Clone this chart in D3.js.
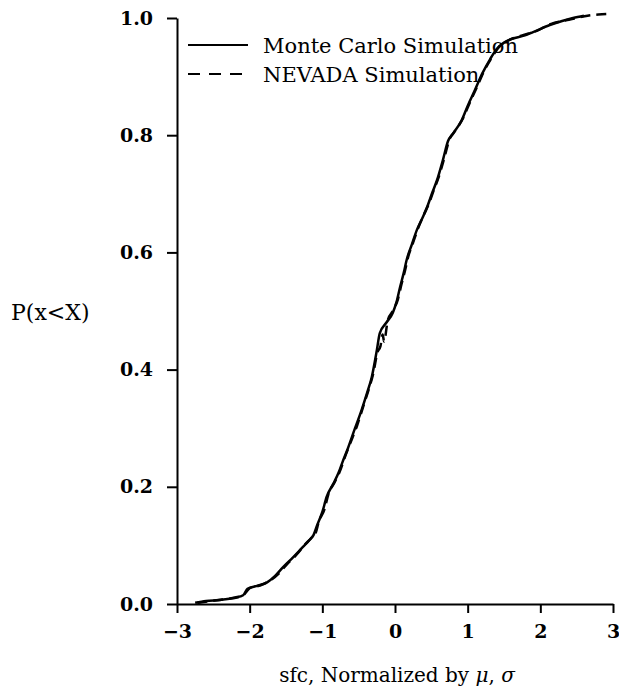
<!DOCTYPE html>
<html>
<head>
<meta charset="utf-8">
<script src="https://cdn.jsdelivr.net/npm/d3@7"></script>
<style>
  body { margin: 0; background: #fff; }
  text { font-family: "DejaVu Serif", "Liberation Serif", serif; fill: #000; }
</style>
</head>
<body>
<div id="chart"></div>
<script>
// Values
var mcX = [-2.75, -2.6, -2.4, -2.2, -2.09, -2.03, -1.9, -1.76, -1.65, -1.54, -1.4, -1.27, -1.17, -1.12, -1.07, -1.0, -0.94, -0.85, -0.78, -0.72, -0.65, -0.55, -0.46, -0.38, -0.32, -0.25, -0.21, -0.12, -0.03, 0.02, 0.07, 0.12, 0.16, 0.23, 0.30, 0.39, 0.45, 0.51, 0.58, 0.66, 0.73, 0.8, 0.92, 1.0, 1.1, 1.2, 1.31, 1.4, 1.5, 1.62, 1.75, 1.9, 2.13, 2.3, 2.45, 2.6];
var mcY = [0.002, 0.005, 0.007, 0.011, 0.015, 0.026, 0.031, 0.037, 0.048, 0.063, 0.08, 0.097, 0.11, 0.118, 0.135, 0.157, 0.183, 0.205, 0.223, 0.243, 0.265, 0.3, 0.331, 0.362, 0.387, 0.433, 0.462, 0.48, 0.497, 0.515, 0.541, 0.565, 0.587, 0.613, 0.638, 0.662, 0.68, 0.701, 0.724, 0.758, 0.79, 0.803, 0.826, 0.85, 0.877, 0.905, 0.93, 0.947, 0.958, 0.965, 0.969, 0.976, 0.988, 0.995, 1.0, 1.004];

var nvX = [-2.72, -2.55, -2.35, -2.15, -2.07, -2.0, -1.85, -1.72, -1.6, -1.5, -1.35, -1.25, -1.15, -1.09, -1.05, -0.97, -0.92, -0.83, -0.76, -0.7, -0.63, -0.52, -0.44, -0.36, -0.3, -0.24, -0.2, -0.17, -0.15, -0.1, -0.02, 0.04, 0.09, 0.14, 0.18, 0.25, 0.32, 0.4, 0.47, 0.53, 0.6, 0.68, 0.75, 0.82, 0.94, 1.02, 1.12, 1.22, 1.33, 1.42, 1.52, 1.64, 1.77, 1.95, 2.15, 2.35, 2.5, 2.65, 2.8, 2.97];
var nvY = [0.002, 0.005, 0.008, 0.012, 0.017, 0.027, 0.032, 0.04, 0.052, 0.066, 0.085, 0.1, 0.113, 0.122, 0.14, 0.162, 0.186, 0.208, 0.226, 0.247, 0.27, 0.305, 0.336, 0.367, 0.393, 0.43, 0.44, 0.46, 0.448, 0.484, 0.502, 0.52, 0.546, 0.57, 0.592, 0.617, 0.642, 0.665, 0.684, 0.705, 0.728, 0.762, 0.793, 0.806, 0.83, 0.853, 0.88, 0.908, 0.932, 0.949, 0.959, 0.966, 0.971, 0.978, 0.99, 0.996, 1.0, 1.004, 1.006, 1.007];

var xTicks = [-3, -2, -1, 0, 1, 2, 3];
var yTicks = [0, 0.2, 0.4, 0.6, 0.8, 1.0];

var svgWidth = 619;
var svgHeight = 691;

var svg = d3.select("#chart")
  .append("svg")
  .attr("width", svgWidth)
  .attr("height", svgHeight);

var xScale = d3.scaleLinear().domain([-3, 3]).range([177, 613]);
var yScale = d3.scaleLinear().domain([0, 1]).range([604, 18]);

// x axis
var xAxis = svg.append("g")
  .attr("transform", `translate(0, ${yScale(0)})`)
  .call(d3.axisBottom(xScale)
    .tickValues(xTicks)
    .tickSize(9)
    .tickSizeOuter(0)
    .tickPadding(12)
    .tickFormat(d => d < 0 ? "\u2212" + Math.abs(d) : d));

// y axis
var yAxis = svg.append("g")
  .attr("transform", `translate(${xScale(-3)}, 0)`)
  .call(d3.axisLeft(yScale)
    .tickValues(yTicks)
    .tickSize(10)
    .tickSizeOuter(0)
    .tickPadding(14)
    .tickFormat(d3.format(".1f")));

svg.selectAll(".domain").attr("stroke-width", 2);
svg.selectAll(".tick line").attr("stroke-width", 2);
svg.selectAll(".tick text")
  .style("font-size", "19px")
  .style("font-weight", "bold")
  .attr("fill", "#000");

// curves
var line = d3.line()
  .x(d => xScale(d[0]))
  .y(d => yScale(d[1]))
  .curve(d3.curveMonotoneX);

var mcData = mcX.map((x, i) => [x, mcY[i]]);
var nvData = nvX.map((x, i) => [x, nvY[i]]);

svg.append("path")
  .datum(nvData)
  .attr("d", line)
  .attr("fill", "none")
  .attr("stroke", "#000")
  .attr("stroke-width", 2.5)
  .attr("stroke-dasharray", "10,6");

svg.append("path")
  .datum(mcData)
  .attr("d", line)
  .attr("fill", "none")
  .attr("stroke", "#000")
  .attr("stroke-width", 2.5);

// legend
var legend = svg.append("g");
legend.append("line")
  .attr("x1", 188).attr("x2", 248)
  .attr("y1", 45).attr("y2", 45)
  .attr("stroke", "#000").attr("stroke-width", 2);
legend.append("line")
  .attr("x1", 188).attr("x2", 248)
  .attr("y1", 74).attr("y2", 74)
  .attr("stroke", "#000").attr("stroke-width", 2)
  .attr("stroke-dasharray", "12,9");
legend.append("text")
  .attr("x", 263).attr("y", 53)
  .style("font-size", "21px")
  .text("Monte Carlo Simulation");
legend.append("text")
  .attr("x", 263).attr("y", 82)
  .style("font-size", "21px")
  .text("NEVADA Simulation");

// axis labels
svg.append("text")
  .attr("x", 11).attr("y", 320)
  .style("font-size", "22px")
  .text("P(x<X)");

var xlabel = svg.append("text")
  .attr("x", 397).attr("y", 682)
  .attr("text-anchor", "middle")
  .style("font-size", "20px");
xlabel.append("tspan").text("sfc, Normalized by ");
xlabel.append("tspan").style("font-style", "italic").text("\u03bc");
xlabel.append("tspan").text(", ");
xlabel.append("tspan").style("font-style", "italic").text("\u03c3");
</script>
</body>
</html>
